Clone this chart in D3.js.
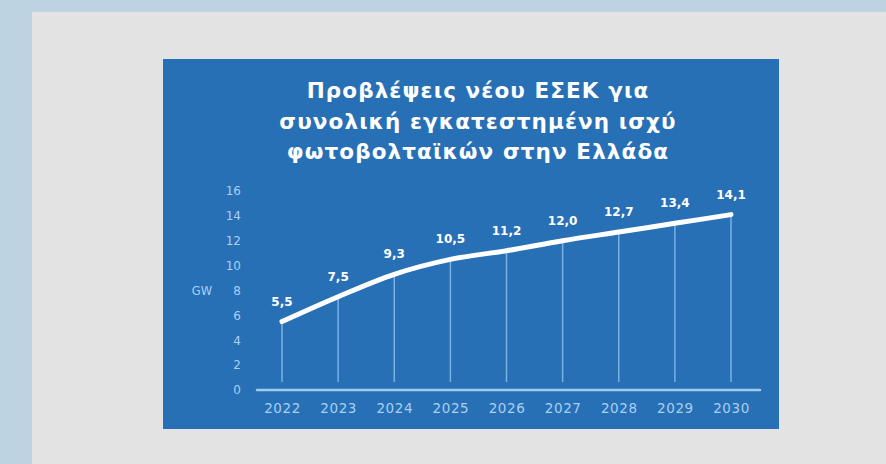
<!DOCTYPE html>
<html>
<head>
<meta charset="utf-8">
<script src="https://cdn.jsdelivr.net/npm/d3@7"></script>
<style>
  html, body { margin: 0; padding: 0; background: #bed3e1; }
  svg { display: block; }
</style>
</head>
<body>
<div id="chart"></div>
<script>
// data
const years = ["2022", "2023", "2024", "2025", "2026", "2027", "2028", "2029", "2030"];
const capacityGW = [5.5, 7.5, 9.3, 10.5, 11.2, 12.0, 12.7, 13.4, 14.1];
const valueLabels = ["5,5", "7,5", "9,3", "10,5", "11,2", "12,0", "12,7", "13,4", "14,1"];
const yTicks = [0, 2, 4, 6, 8, 10, 12, 14, 16];
const titleLines = [
    "Προβλέψεις νέου ΕΣΕΚ για",
    "συνολική εγκατεστημένη ισχύ",
    "φωτοβολταϊκών στην Ελλάδα"
];

let width = 886, height = 464;
let font = "'DejaVu Sans', sans-serif";
let blue = "#2870b6", pale = "#a9cff2";

let svg = d3.select("#chart")
    .append("svg")
    .attr("width", width)
    .attr("height", height);

// page background + grey panel
svg.append("rect").attr("width", width).attr("height", height).attr("fill", "#bed3e1");
svg.append("rect").attr("x", 32).attr("y", 12).attr("width", width - 32).attr("height", height - 12).attr("fill", "#e3e3e3");

// blue card
svg.append("rect").attr("x", 163).attr("y", 59).attr("width", 616).attr("height", 370).attr("fill", blue);

// title
svg.append("g").selectAll("text")
    .data(titleLines)
    .enter()
    .append("text")
    .attr("x", 478)
    .attr("y", (d, i) => 98 + i * 30.5)
    .attr("text-anchor", "middle")
    .style("font-family", font)
    .style("font-weight", "bold")
    .style("font-size", "21.5px")
    .style("letter-spacing", "1.1px")
    .attr("fill", "#ffffff")
    .text(d => d);

let x = d3.scalePoint().domain(years).range([282, 731]);
let y = d3.scaleLinear().domain([0, 16]).range([390, 191]);

// y axis labels (no line)
let yAxis = d3.axisLeft(y).tickValues(yTicks).tickSize(0).tickPadding(0);
let gy = svg.append("g").attr("transform", "translate(241,0)").call(yAxis);
gy.select(".domain").remove();
gy.selectAll("text")
    .attr("fill", pale)
    .style("font-family", font)
    .style("font-size", "12px");

svg.append("text")
    .attr("x", 202)
    .attr("y", y(8) + 4)
    .attr("text-anchor", "middle")
    .attr("fill", pale)
    .style("font-family", font)
    .style("font-size", "11.5px")
    .text("GW");

// x axis
let xAxis = d3.axisBottom(x).tickSize(0).tickPadding(13);
let gx = svg.append("g").attr("transform", `translate(0,${y(0)})`).call(xAxis);
gx.select(".domain").remove();
gx.selectAll("text")
    .attr("fill", pale)
    .style("font-family", font)
    .style("font-size", "13.5px")
    .style("letter-spacing", "0.6px");

svg.append("line")
    .attr("x1", 257).attr("x2", 760)
    .attr("y1", y(0)).attr("y2", y(0))
    .attr("stroke", "#9fcaf0")
    .attr("stroke-width", 2.5)
    .attr("stroke-linecap", "round");

let points = years.map((yr, i) => ({ year: yr, value: capacityGW[i], label: valueLabels[i] }));

// drop lines
svg.append("g").selectAll("line")
    .data(points)
    .enter()
    .append("line")
    .attr("x1", d => x(d.year)).attr("x2", d => x(d.year))
    .attr("y1", d => y(d.value))
    .attr("y2", y(0) - 8)
    .attr("stroke", "#8fc0ee")
    .attr("stroke-width", 1.5)
    .attr("opacity", 0.8);

// main line
let line = d3.line()
    .x(d => x(d.year))
    .y(d => y(d.value))
    .curve(d3.curveMonotoneX);

svg.append("path")
    .datum(points)
    .attr("d", line)
    .attr("fill", "none")
    .attr("stroke", "#ffffff")
    .attr("stroke-width", 5)
    .attr("stroke-linecap", "round");

// value labels
svg.append("g").selectAll("text")
    .data(points)
    .enter()
    .append("text")
    .attr("x", d => x(d.year))
    .attr("y", d => y(d.value) - 16)
    .attr("text-anchor", "middle")
    .attr("fill", "#ffffff")
    .style("font-family", font)
    .style("font-weight", "bold")
    .style("font-size", "12px")
    .text(d => d.label);
</script>
</body>
</html>
